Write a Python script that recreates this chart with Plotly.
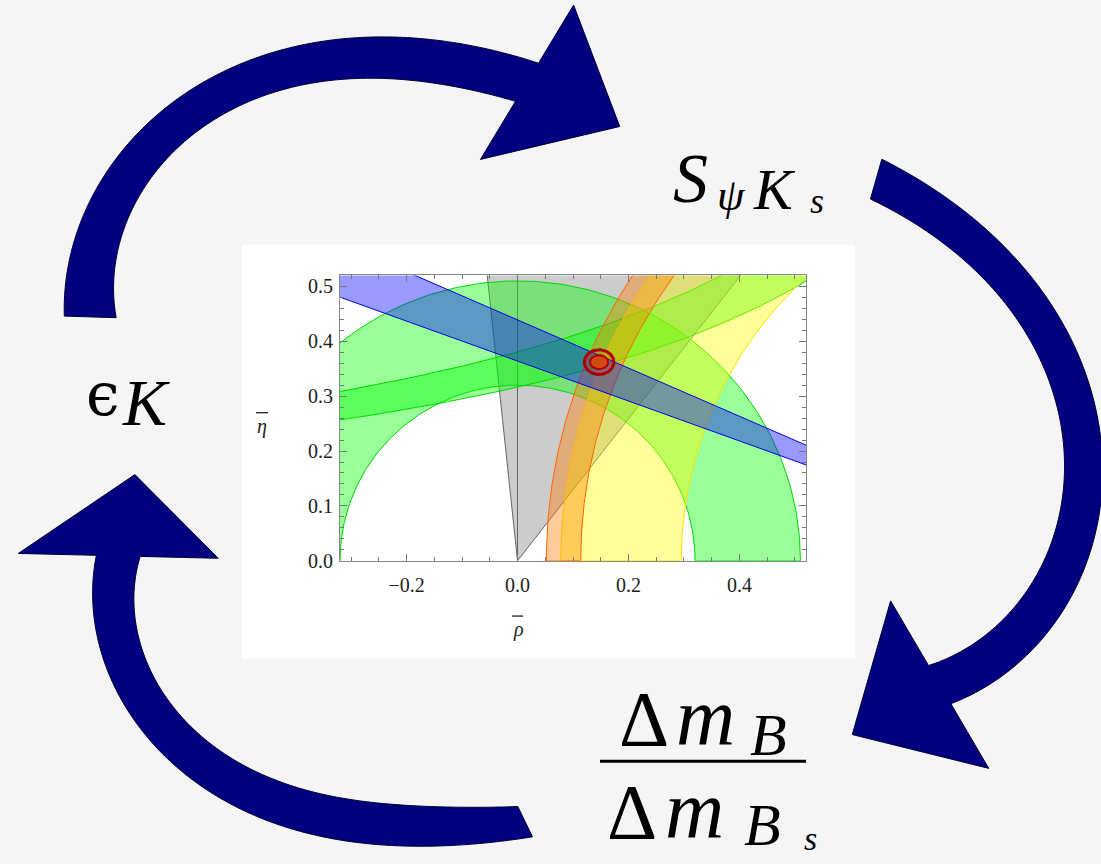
import numpy as np
import plotly.graph_objects as go

W, H = 1101, 864

# ---------------- data ----------------
rho_range = [-0.32, 0.52]
eta_range = [0.0, 0.52]
x_ticks = [-0.2, 0.0, 0.2, 0.4]
x_ticktext = ["\u22120.2", "0.0", "0.2", "0.4"]
y_ticks = [0.0, 0.1, 0.2, 0.3, 0.4, 0.5]
y_ticktext = ["0.0", "0.1", "0.2", "0.3", "0.4", "0.5"]

beta_deg = [20.0, 23.7]          # S_psiKs band: angle seen from (1, 0)
gamma_deg = [52.3, 96.0]         # gray wedge: angle seen from (0, 0)
rb_radii = [0.32, 0.51]          # green annulus around (0, 0)
rt_yellow = [0.705, 0.922]       # yellow ring around (1, 0)
rt_orange = [0.886, 0.948]       # orange ring around (1, 0)
epsk_a = 1.372                   # eps_K hyperbola: eta = c / (a - rho)
epsk_c = [0.434, 0.522]
fit_center = [0.147, 0.362]
fit_semi_rho = [0.0165, 0.0267]
fit_semi_eta = [0.0126, 0.0225]

# ---------------- geometry helpers ----------------
def wedge(apex, a1, a2, L=3.0):
    ax, ay = apex
    xs = [ax, ax + L*np.cos(np.radians(a1)), ax + L*np.cos(np.radians(a2)), ax]
    ys = [ay, ay + L*np.sin(np.radians(a1)), ay + L*np.sin(np.radians(a2)), ay]
    return xs, ys

def ring(center, r1, r2, t0, t1, n=200):
    t = np.radians(np.linspace(t0, t1, n))
    cx, cy = center
    xo = cx + r2*np.cos(t); yo = cy + r2*np.sin(t)
    xi = cx + r1*np.cos(t[::-1]); yi = cy + r1*np.sin(t[::-1])
    return np.concatenate([xo, xi, xo[:1]]), np.concatenate([yo, yi, yo[:1]])

def hyper_band(a, c1, c2, x0=-0.6, x1=0.85, n=200):
    x = np.linspace(x0, x1, n)
    y1 = c1/(a - x); y2 = c2/(a - x)
    return np.concatenate([x, x[::-1], x[:1]]), np.concatenate([y1, y2[::-1], y1[:1]])

def ellipse(c, rx, ry, n=120):
    t = np.linspace(0, 2*np.pi, n)
    return c[0] + rx*np.cos(t), c[1] + ry*np.sin(t)

fig = go.Figure()

def add_region(xs, ys, fill, line, width=1.0):
    fig.add_trace(go.Scatter(x=xs, y=ys, mode="lines", fill="toself", fillcolor=fill,
                             line=dict(color=line, width=width), hoverinfo="skip",
                             showlegend=False))

gx, gy = wedge((0.0, 0.0), gamma_deg[0], gamma_deg[1])
add_region(gx, gy, "rgba(128,128,128,0.4)", "rgba(70,70,70,0.8)")
ax_, ay_ = ring((0.0, 0.0), rb_radii[0], rb_radii[1], 0, 180)
add_region(ax_, ay_, "rgba(0,255,0,0.4)", "rgb(0,215,0)")
hx, hy = hyper_band(epsk_a, epsk_c[0], epsk_c[1])
add_region(hx, hy, "rgba(0,255,0,0.4)", "rgb(0,215,0)")
yx, yy = ring((1.0, 0.0), rt_yellow[0], rt_yellow[1], 90, 180)
add_region(yx, yy, "rgba(255,255,0,0.4)", "rgb(250,225,0)")
ox, oy = ring((1.0, 0.0), rt_orange[0], rt_orange[1], 90, 180)
add_region(ox, oy, "rgba(255,128,0,0.4)", "rgb(255,100,0)")
bx, by = wedge((1.0, 0.0), 180 - beta_deg[0], 180 - beta_deg[1])
add_region(bx, by, "rgba(0,0,255,0.4)", "rgb(0,0,230)")
ex, ey = ellipse(fit_center, fit_semi_rho[1], fit_semi_eta[1])
add_region(ex, ey, "rgba(255,0,0,0.15)", "rgb(175,0,0)", 3)
ex, ey = ellipse(fit_center, fit_semi_rho[0], fit_semi_eta[0])
add_region(ex, ey, "rgba(225,70,0,0.85)", "rgb(175,0,0)", 2)

# ---------------- layout ----------------
def px(x):
    return x / W

def py(y):
    return 1 - y / H

tickfont = dict(family="Liberation Serif", size=20, color="#222222")
fig.update_layout(
    width=W, height=H, autosize=False,
    margin=dict(l=0, r=0, t=0, b=0),
    paper_bgcolor="#f5f5f5", plot_bgcolor="white",
    font=dict(family="Liberation Serif", color="black"),
    xaxis=dict(domain=[px(340), px(806)], range=rho_range, tickvals=x_ticks,
               ticktext=x_ticktext, ticks="inside", ticklen=7, tickcolor="#777",
               showline=True, linecolor="#888", linewidth=1, mirror="allticks",
               showgrid=False, zeroline=True, zerolinecolor="#555", zerolinewidth=1,
               tickfont=tickfont, ticklabelstandoff=6,
               minor=dict(dtick=0.05, ticks="inside", ticklen=4, tickcolor="#777")),
    yaxis=dict(domain=[py(568), py(279)], range=eta_range, tickvals=y_ticks,
               ticktext=y_ticktext, ticks="inside", ticklen=7, tickcolor="#777",
               showline=True, linecolor="#888", linewidth=1, mirror="allticks",
               showgrid=False, zeroline=False, tickfont=tickfont, ticklabelstandoff=2,
               minor=dict(dtick=0.02, ticks="inside", ticklen=4, tickcolor="#777")),
)

shapes = []
shapes.append(dict(type="rect", xref="paper", yref="paper", x0=px(242), x1=px(855),
                   y0=py(667), y1=py(248), fillcolor="white", line=dict(width=0),
                   layer="below"))

# ---------------- curved arrows (decoration, pixel geometry) ----------------
def wrap(a):
    return (a + 180.0) % 360.0 - 180.0

def arrow_path(center, outer, inner, tail, end, hw, hl, rot, deg=3):
    cx, cy = center
    a_t = np.degrees(np.arctan2(tail[1] - cy, tail[0] - cx))
    a_e = a_t + wrap(np.degrees(np.arctan2(end[1] - cy, end[0] - cx)) - a_t)
    mid = 0.5*(a_t + a_e)

    def polar(pts):
        P = np.array(pts, dtype=float)
        ang = np.degrees(np.arctan2(P[:, 1] - cy, P[:, 0] - cx))
        ang = mid + wrap(ang - mid)
        r = np.hypot(P[:, 0] - cx, P[:, 1] - cy)
        return np.polyfit(ang, r, deg)

    po, pi = polar(outer), polar(inner)
    th = np.linspace(a_t, a_e, 160)
    ro, ri = np.polyval(po, th), np.polyval(pi, th)
    t = np.radians(th)
    O = np.stack([cx + ro*np.cos(t), cy + ro*np.sin(t)], 1)
    I = np.stack([cx + ri*np.cos(t), cy + ri*np.sin(t)], 1)
    rc = 0.5*(ro[-1] + ri[-1])
    te = t[-1]
    u = np.array([np.cos(te), np.sin(te)])
    sgn = 1.0 if a_e > a_t else -1.0
    tg = sgn*np.array([-np.sin(te), np.cos(te)])
    a = np.radians(rot)
    tg = np.array([tg[0]*np.cos(a) - tg[1]*np.sin(a), tg[0]*np.sin(a) + tg[1]*np.cos(a)])
    E = np.array([cx, cy]) + rc*u
    poly = list(O) + [E + u*hw, E + tg*hl, E - u*hw] + list(I[::-1])
    return "M " + " L ".join(f"{px(p[0]):.5f},{py(p[1]):.5f}" for p in poly) + " Z"

arrows = [
    dict(center=(380, 330),
         outer=[(65.5, 322), (68, 267), (104, 173), (187, 97), (290, 50), (381, 35),
                (456, 43), (539, 65)],
         inner=[(116, 319), (124, 233), (166, 157), (249, 107), (373, 78), (456, 87),
                (514, 103)],
         tail=(91, 321), end=(526, 85), hw=91, hl=103, rot=-5),
    dict(center=(800, 452),
         outer=[(883, 162), (973, 220), (1040, 295), (1087, 381), (1104, 447),
                (1097, 522), (1073, 596), (1027, 667), (951, 712)],
         inner=[(870, 202), (940, 241), (1007, 315), (1047, 381), (1067, 456),
                (1057, 534), (1020, 604), (928, 675)],
         tail=(876, 182), end=(940, 694), hw=98, hl=101, rot=0),
    dict(center=(400, 570),
         outer=[(95.7, 560), (94.6, 610), (107, 677), (143, 743), (196, 793), (286, 837),
                (393, 857), (464, 855), (532, 848)],
         inner=[(138, 567), (135.7, 610), (150, 677), (196, 743), (268, 787), (357, 810),
                (428.6, 817), (518, 817)],
         tail=(525, 832), end=(117, 563), hw=100, hl=84, rot=10),
]
for a in arrows:
    shapes.append(dict(type="path", xref="paper", yref="paper",
                       path=arrow_path(a["center"], a["outer"], a["inner"], a["tail"],
                                       a["end"], a["hw"], a["hl"], a["rot"]),
                       fillcolor="#000080", line=dict(color="#000030", width=1),
                       layer="above"))

# fraction bar
shapes.append(dict(type="line", xref="paper", yref="paper", x0=px(600), x1=px(806),
                   y0=py(771), y1=py(771), line=dict(color="black", width=3)))
# bars over rho / eta axis labels
shapes.append(dict(type="line", xref="paper", yref="paper", x0=px(512), x1=px(523),
                   y0=py(624), y1=py(624), line=dict(color="#222", width=1.3)))
shapes.append(dict(type="line", xref="paper", yref="paper", x0=px(256), x1=px(268),
                   y0=py(418), y1=py(418), line=dict(color="#222", width=1.3)))
fig.update_layout(shapes=shapes)

def label(text, x, y, size, family="Liberation Serif", color="black"):
    fig.add_annotation(text=text, x=px(x), y=py(y), xref="paper", yref="paper",
                       showarrow=False, xanchor="center", yanchor="middle",
                       font=dict(family=family, size=size, color=color))

# axis labels
label("<i>\u03c1</i>", 518, 638, 20, color="#222")
label("<i>\u03b7</i>", 262, 432, 20, color="#222")

# S_{psi K_s}
label("<i>S</i>", 690, 181, 70)
label("<i>\u03c8</i>", 731, 198, 44)
label("<i>K</i>", 774, 192, 58)
label("<i>s</i>", 817, 204, 36)
# eps_K
label("\u03f5", 103, 399, 60, family="DejaVu Serif")
label("<i>K</i>", 146, 408, 66)
# Delta m_B / Delta m_Bs
label("\u0394", 644, 728, 78)
label("<i>m</i>", 705, 726, 82)
label("<i>B</i>", 768, 744, 60)
label("\u0394", 632, 822, 78)
label("<i>m</i>", 694, 820, 82)
label("<i>B</i>", 762, 836, 60)
label("<i>s</i>", 810, 849, 34)

fig.write_html("out.html", config={"displayModeBar": False},
               post_script="document.body.style.margin='0';document.body.style.overflow='hidden';")
